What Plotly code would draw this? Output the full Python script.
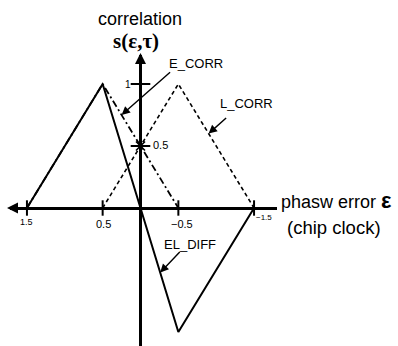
import plotly.graph_objects as go

# Correlation curves of an early/late delay-lock loop vs. phase error (in chips)
eps_early = [1.5, 0.5, -0.5]
e_corr = [0, 1, 0]

eps_late = [0.5, -0.5, -1.5]
l_corr = [0, 1, 0]

eps_diff = [1.5, 0.5, -0.5, -1.5]
el_diff = [0, 1, -1, 0]

x_ticks = [1.5, 0.5, -0.5, -1.5]
x_tick_text = ["1.5", "0.5", "\u22120.5", "\u22121.5"]
y_ticks = [1, 0.5]
y_tick_text = ["1", "0.5"]

# Canvas / axis geometry (pixels)
W, H = 398, 346
X0_PX, Y0_PX = 140.5, 208.0      # origin
SX, SY = 75.7, 124.0             # pixels per unit
PL, PR, PT, PB = 10, 277, 55, 346  # axis extents


def dx(px):
    return (X0_PX - px) / SX


def dy(py):
    return (Y0_PX - py) / SY


def paper_x(px):
    return (px - PL) / (PR - PL)


def paper_y(py):
    return (PB - py) / (PB - PT)


FONT = "Liberation Sans, Arial, sans-serif"
INK = "black"

fig = go.Figure()

fig.add_trace(go.Scatter(
    x=eps_early, y=e_corr, mode="lines", name="E_CORR",
    line=dict(color=INK, width=1.8, dash="7px,3px,2px,3px"),
))
fig.add_trace(go.Scatter(
    x=eps_late, y=l_corr, mode="lines", name="L_CORR",
    line=dict(color=INK, width=1.6, dash="4px,3px"),
))
fig.add_trace(go.Scatter(
    x=eps_diff, y=el_diff, mode="lines", name="EL_DIFF",
    line=dict(color=INK, width=2),
))

# Tick marks crossing the axes
fig.add_trace(go.Scatter(
    x=x_ticks, y=[0] * len(x_ticks), mode="markers", cliponaxis=False,
    marker=dict(symbol="line-ns", size=11, line=dict(color=INK, width=2)),
))
fig.add_trace(go.Scatter(
    x=[0] * len(y_ticks), y=y_ticks, mode="markers", cliponaxis=False,
    marker=dict(symbol="line-ew", size=14, line=dict(color=INK, width=2)),
))
fig.add_trace(go.Scatter(
    x=[0], y=[y_ticks[1]], mode="markers",
    marker=dict(symbol="x-thin", size=9, line=dict(color=INK, width=1.6)),
))

ann = []


def text_at(px, py, text, size, family=FONT, xanchor="center"):
    ann.append(dict(xref="paper", yref="paper", x=paper_x(px), y=paper_y(py),
                    text=text, showarrow=False, xanchor=xanchor, yanchor="middle",
                    font=dict(family=family, size=size, color=INK)))


# x tick labels: (x shift px, y pixel, size)
x_lab_style = [(0, 222, 9), (1, 224, 11), (4, 224, 11), (10, 217, 8)]
for v, t, (sh, py, sz) in zip(x_ticks, x_tick_text, x_lab_style):
    ann.append(dict(x=v, y=dy(py), text=t, showarrow=False, xshift=sh,
                    font=dict(family=FONT, size=sz, color=INK)))

# y tick labels
ann.append(dict(x=dx(133), y=y_ticks[0], text=y_tick_text[0], showarrow=False,
                xanchor="right", font=dict(family=FONT, size=10, color=INK)))
ann.append(dict(x=dx(151), y=y_ticks[1], text=y_tick_text[1], showarrow=False,
                xanchor="left", yshift=1, font=dict(family=FONT, size=11, color=INK)))

# Axis arrowheads
ann.append(dict(x=dx(7), y=0, ax=dx(20), ay=0, axref="x", ayref="y",
                showarrow=True, arrowhead=2, arrowsize=1.1, arrowwidth=2,
                arrowcolor=INK, text=""))
ann.append(dict(xref="x", yref="paper", x=0, y=paper_y(53), ax=0, ay=14,
                showarrow=True, arrowhead=2, arrowsize=1.1, arrowwidth=2,
                arrowcolor=INK, text=""))

# Axis titles
text_at(140, 19, "correlation", 18)
text_at(136, 41, "<b>s(\u03b5,\u03c4)</b>", 21, family="Liberation Serif, serif")
text_at(279, 200, "phasw error <span style='font-size:22px'><b>\u03b5</b></span>",
        18, xanchor="left")
text_at(285, 227, "(chip clock)", 18.5, xanchor="left")

# Curve labels with pointer arrows
labels = [
    ("E_CORR", 196, 63, 0.25, 0.75, 50, -44),
    ("L_CORR", 246, 104, -0.9, 0.6, 19, -17),
    ("EL_DIFF", 190, 244, -0.26, -0.52, 21, -22),
]
for txt, lx, ly, hx, hy, ox, oy in labels:
    text_at(lx, ly, txt, 13)
    ann.append(dict(x=hx, y=hy, ax=ox, ay=oy, showarrow=True, text="",
                    arrowhead=2, arrowsize=1.2, arrowwidth=1.4, arrowcolor=INK))

axis_common = dict(showgrid=False, showticklabels=False, ticks="",
                   showline=False, zeroline=True, zerolinecolor=INK,
                   zerolinewidth=2.5, fixedrange=True)

fig.update_layout(
    width=W, height=H,
    margin=dict(l=PL, r=W - PR, t=PT, b=H - PB),
    paper_bgcolor="white", plot_bgcolor="white",
    showlegend=False,
    xaxis=dict(range=[dx(PL), dx(PR)], **axis_common),
    yaxis=dict(range=[dy(PB), dy(PT)], **axis_common),
    annotations=ann,
)

fig.write_html("out.html")
